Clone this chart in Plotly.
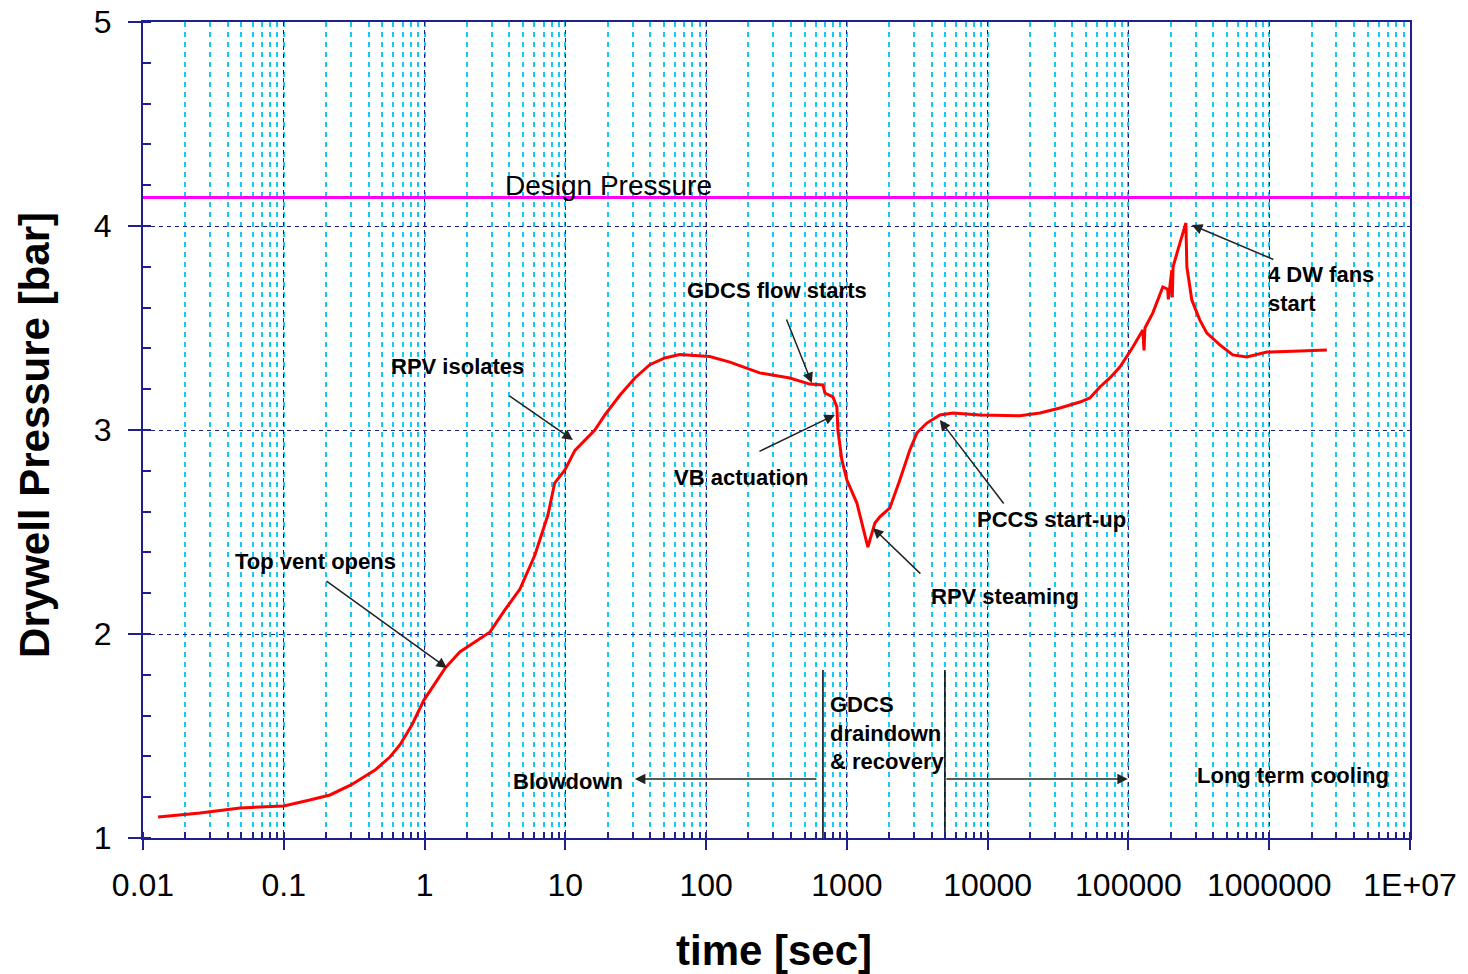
import plotly.graph_objects as go

# ---- data ----
time_s = [0.0128, 0.0254, 0.0489, 0.100, 0.153, 0.213, 0.30, 0.445, 0.567, 0.668, 0.813,
          0.99, 1.40, 1.78, 2.92, 3.72, 4.76, 6.08, 7.52, 8.4, 9.93, 11.7, 16.2, 19.1,
          24.4, 31.2, 39.8, 50.9, 65, 106, 147.6, 240, 393, 545, 676, 698, 796, 849, 863,
          921, 1000, 1178, 1409, 1581, 1715, 2018, 2377, 2800, 3140, 3700, 4580, 5660,
          8810, 16900, 23500, 32600, 45200, 53200, 62700, 73800, 86900, 107500, 126500,
          129000, 131000, 149000, 175400, 190000, 192000, 203200, 205000, 207500, 224400,
          255900, 260000, 282000, 321000, 360600, 446000, 551000, 693000, 962000,
          1649000, 2566000]
pressure_bar = [1.103, 1.123, 1.147, 1.157, 1.186, 1.211, 1.26, 1.333, 1.397, 1.456, 1.554,
                1.676, 1.833, 1.912, 2.01, 2.118, 2.22, 2.387, 2.583, 2.74, 2.804, 2.90, 3.0, 3.074,
                3.17, 3.255, 3.32, 3.353, 3.37, 3.36, 3.333, 3.28, 3.255, 3.225, 3.221, 3.181,
                3.162, 3.113, 3.0, 2.853, 2.755, 2.642, 2.426, 2.544, 2.574, 2.618, 2.755, 2.902,
                2.985, 3.034, 3.074, 3.083, 3.074, 3.07, 3.083, 3.108, 3.137, 3.157, 3.211, 3.255,
                3.309, 3.407, 3.49, 3.39, 3.50, 3.574, 3.701, 3.69, 3.64, 3.784, 3.65, 3.80, 3.882,
                4.015, 3.80, 3.637, 3.54, 3.475, 3.417, 3.368, 3.358, 3.382, 3.387, 3.392]

design_pressure = 4.14
x_tick_vals = [0.01, 0.1, 1, 10, 100, 1000, 10000, 100000, 1000000, 10000000]
x_tick_text = ["0.01", "0.1", "1", "10", "100", "1000", "10000", "100000", "1000000", "1E+07"]
y_tick_vals = [1, 2, 3, 4, 5]

NAVY = "#1f1f8f"
CYAN = "#19c8f0"
FONT = "Liberation Sans, Arial, sans-serif"

fig = go.Figure()
fig.add_trace(go.Scatter(x=[0.01, 1e7], y=[design_pressure, design_pressure], mode="lines",
                         line=dict(color="#ff00ff", width=3), hoverinfo="skip"))
fig.add_trace(go.Scatter(x=time_s, y=pressure_bar, mode="lines",
                         line=dict(color="#ff0000", width=3)))

# phase separators
for tv in [676, 4970]:
    fig.add_trace(go.Scatter(x=[tv, tv], y=[1.0, 1.824], mode="lines",
                             line=dict(color="black", width=1.5), hoverinfo="skip"))

ann = []
bold = dict(family=FONT, size=22, color="black", weight="bold")

def label(x, y, text, xanchor="center", yanchor="middle", font=bold):
    ann.append(dict(x=x, y=y, xref="x", yref="y", text=text, showarrow=False,
                    xanchor=xanchor, yanchor=yanchor, font=font, align="left"))

def arrow(x0, y0, x1, y1):
    ann.append(dict(x=x1, y=y1, ax=x0, ay=y0, xref="x", yref="y", axref="x", ayref="y",
                    text="", showarrow=True, arrowhead=2, arrowsize=1.4, arrowwidth=1.5,
                    arrowcolor="#222222"))

label(-0.778, 2.353, "Top vent opens")
arrow(-0.707, 2.265, 0.159, 1.833)
label(0.237, 3.309, "RPV isolates")
arrow(0.592, 3.172, 1.054, 2.951)
label(2.503, 3.686, "GDCS flow starts")
arrow(2.567, 3.549, 2.751, 3.230)
label(2.247, 2.765, "VB actuation")
arrow(2.368, 2.892, 2.915, 3.074)
label(4.456, 2.559, "PCCS start-up")
arrow(4.122, 2.632, 3.660, 3.049)
label(4.122, 2.186, "RPV steaming")
arrow(3.533, 2.289, 3.185, 2.520)
label(5.976, 3.691, "4 DW fans<br>start", xanchor="left")
arrow(6.040, 3.833, 5.450, 4.005)
label(1.018, 1.275, "Blowdown")
arrow(2.794, 1.289, 1.494, 1.289)
label(2.865, 1.515, "GDCS<br>draindown<br>& recovery", xanchor="left")
arrow(3.696, 1.289, 4.996, 1.289)
label(6.168, 1.304, "Long term cooling")
label(1.31, 4.20, "Design Pressure",
      font=dict(family=FONT, size=28, color="black"))

# axis titles
ann.append(dict(x=0.498, y=0, xref="paper", yref="paper", yshift=-112, showarrow=False,
                text="time [sec]", xanchor="center", yanchor="middle",
                font=dict(family=FONT, size=42, color="black", weight="bold")))
ann.append(dict(x=0, y=0.494, xref="paper", yref="paper", xshift=-108, showarrow=False,
                text="Drywell Pressure [bar]", textangle=-90, xanchor="center", yanchor="middle",
                font=dict(family=FONT, size=42, color="black", weight="bold")))

fig.update_layout(
    width=1468, height=974, margin=dict(l=143, r=58, t=22, b=136, autoexpand=False),
    paper_bgcolor="white", plot_bgcolor="white", showlegend=False,
    annotations=ann,
    font=dict(family=FONT, color="black"),
)
fig.update_xaxes(type="log", range=[-2, 7], tickvals=x_tick_vals, ticktext=x_tick_text,
                 tickfont=dict(family=FONT, size=32, color="black"), automargin=False,
                 ticklabelstandoff=8,
                 showline=True, linecolor=NAVY, linewidth=2, mirror=True,
                 ticks="outside", ticklen=10, tickwidth=2, tickcolor=NAVY,
                 showgrid=True, gridcolor=NAVY, gridwidth=1, griddash="4px,4px",
                 minor=dict(dtick="D1", ticks="inside", ticklen=6, tickwidth=1.5, tickcolor=NAVY,
                            showgrid=True, gridcolor=CYAN, gridwidth=1.5, griddash="5px,5px"),
                 zeroline=False)
fig.update_yaxes(range=[1, 5], tickvals=y_tick_vals,
                 tickfont=dict(family=FONT, size=32, color="black"), automargin=False,
                 ticklabelstandoff=10,
                 showline=True, linecolor=NAVY, linewidth=2, mirror=True,
                 ticks="outside", ticklen=13, tickwidth=2, tickcolor=NAVY,
                 showgrid=True, gridcolor=NAVY, gridwidth=1, griddash="4px,4px",
                 minor=dict(dtick=0.2, ticks="inside", ticklen=8, tickwidth=1.5, tickcolor=NAVY,
                            showgrid=False),
                 zeroline=False)

fig.write_html("out.html")
